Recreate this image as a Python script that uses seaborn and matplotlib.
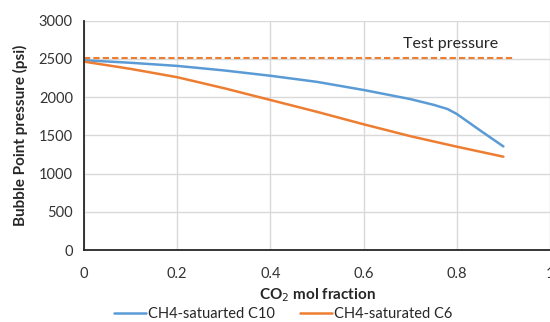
import matplotlib
matplotlib.use("Agg")
import matplotlib.pyplot as plt
import seaborn as sns
import pandas as pd
from matplotlib.lines import Line2D

x_c10 = [0.0, 0.1, 0.2, 0.3, 0.4, 0.5, 0.6, 0.7, 0.75, 0.78, 0.8, 0.85, 0.9]
y_c10 = [2483, 2450, 2409, 2350, 2280, 2200, 2094, 1975, 1900, 1845, 1780, 1565, 1355]
x_c6 = [0.0, 0.1, 0.2, 0.3, 0.4, 0.5, 0.6, 0.7, 0.8, 0.9]
y_c6 = [2465, 2370, 2261, 2118, 1963, 1808, 1645, 1490, 1352, 1221]
test_x = [0.0, 0.925]
test_p = [2510, 2510]
series_names = ["CH4-satuarted C10", "CH4-saturated C6"]
x_ticks = [0, 0.2, 0.4, 0.6, 0.8, 1]
x_tick_labels = ["0", "0.2", "0.4", "0.6", "0.8", "1"]
y_ticks = [0, 500, 1000, 1500, 2000, 2500, 3000]

df = pd.concat([
    pd.DataFrame({"x": x_c10, "y": y_c10, "series": series_names[0]}),
    pd.DataFrame({"x": x_c6, "y": y_c6, "series": series_names[1]}),
])

sns.set_style("white")
plt.rcParams["font.family"] = ["Lato", "DejaVu Sans"]

blue = "#5B9BD5"
orange = "#ED7D31"

fig = plt.figure(figsize=(5.5, 3.22), dpi=100)
ax = fig.add_axes([0.1527, 0.2236, 0.8473, 0.712])

sns.lineplot(data=df, x="x", y="y", hue="series", palette=[blue, orange],
             linewidth=1.8, ax=ax, legend=False, sort=False)
sns.lineplot(x=test_x, y=test_p, color=orange, linewidth=1.5, linestyle=(0, (3, 1.5)), ax=ax)

ax.set_xlim(0, 1)
ax.set_ylim(0, 3000)
ax.set_xticks(x_ticks)
ax.set_xticklabels(x_tick_labels)
ax.set_yticks(y_ticks)
ax.grid(True, color="#d9d9d9", linewidth=1)
ax.set_axisbelow(True)
for s in ["top", "right"]:
    ax.spines[s].set_visible(False)
for s in ["left", "bottom"]:
    ax.spines[s].set_color("#262626")
    ax.spines[s].set_linewidth(1.3)
ax.tick_params(axis="both", length=0, labelsize=10.5, colors="#333333", pad=8)
ax.tick_params(axis="x", pad=12)

ax.set_xlabel("CO$_2$ mol fraction", fontsize=11, fontweight="bold", color="#262626", labelpad=4)
ax.set_ylabel("Bubble Point pressure (psi)", fontsize=11, fontweight="bold", color="#262626", labelpad=8)

ax.text(0.684, 2700, "Test pressure", fontsize=11.5, color="#262626", va="center", ha="left")

handles = [Line2D([], [], color=blue, linewidth=1.8), Line2D([], [], color=orange, linewidth=1.8)]
fig.legend(handles, series_names, loc="center", bbox_to_anchor=(0.515, 0.025), ncol=2,
           frameon=False, fontsize=10.5, handlelength=2.2, handletextpad=0.15, columnspacing=1.7,
           labelcolor="#262626", borderpad=0.1)

fig.savefig("out.png", dpi=100)
